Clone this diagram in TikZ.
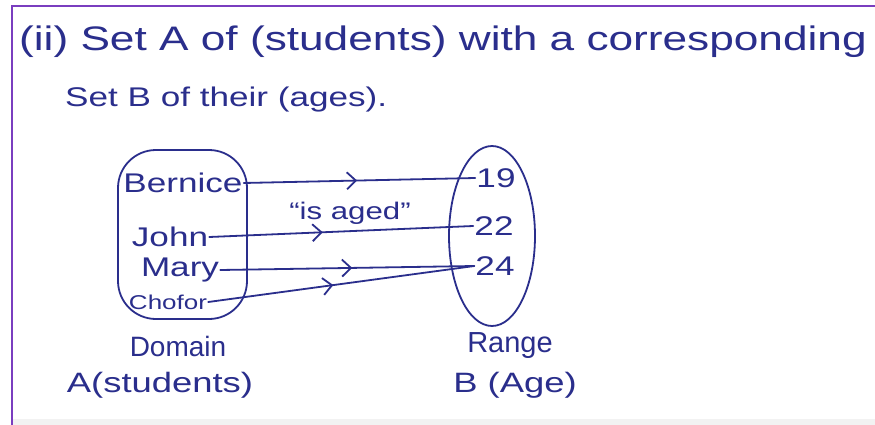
\documentclass[tikz,border=0pt]{standalone}
\usepackage{fontspec}
\setmainfont{Liberation Sans}
\newfontfamily\handfont[FakeStretch=1.3]{Liberation Sans}
\newfontfamily\plainhand{Liberation Sans}
\usetikzlibrary{arrows.meta,decorations.markings}
\definecolor{ink}{HTML}{2A2E8C}
\definecolor{framecol}{HTML}{7A3DBF}
\tikzset{
  inkline/.style={draw=ink, line width=1.8pt, line cap=round, line join=round},
  midarrow/.style={inkline, postaction={decorate},
    decoration={markings, mark=at position #1 with {\arrow[ink, line width=1.8pt]{Straight Barb[length=9pt,width=17pt]}}}},
  hand/.style={text=ink, inner sep=1pt, font=\handfont\fontsize{#1}{#1}\selectfont},
  tallhand/.style={text=ink, inner sep=1pt, font=\plainhand\fontsize{#1}{#1}\selectfont},
}
\begin{document}
\begin{tikzpicture}[x=1pt,y=-1pt]
\useasboundingbox (0,0) rectangle (875,425);
\fill[white] (0,0) rectangle (875,425);
\fill[black!5] (12,419) rectangle (875,425);
\draw[framecol, line width=2.6pt] (12,425) -- (12,6) -- (875,6);

% title text
\node[hand=34, anchor=west] (title) at (18,42) {(ii) Set A of (students) with a corresponding};
\node[hand=27, anchor=west] (sub) at (64,100) {Set B of their (ages).};

% sets
\draw[inkline, rounded corners=38pt] (118,150) rectangle (247,319);
\draw[inkline] (492,236) ellipse [x radius=43pt, y radius=90pt];

% domain elements
\node[hand=27] (bernice) at (183,183) {Bernice};
\node[hand=27] (john) at (170,237) {John};
\node[hand=27] (mary) at (180,270) {Mary};
\node[hand=20] (chofor) at (168,302) {Chofor};

% range elements
\node[hand=27] (n19) at (496,178) {19};
\node[hand=27] (n22) at (494,226) {22};
\node[hand=27] (n24) at (495,266) {24};

% connectors
\draw[midarrow=0.49] (bernice.east) -- (n19.west);
\draw[midarrow=0.43] (john.east) -- (n22.west);
\draw[midarrow=0.52] (mary.east) -- (n24.west);
\draw[midarrow=0.47] (chofor.east) -- (n24.west);

\node[hand=24] (isaged) at (350,213) {“is aged”};

% labels
\node[tallhand=28] (domain) at (178,346) {Domain};
\node[tallhand=29] (range) at (510,346) {Range};
\node[hand=28] (setA) at (160,385) {A(students)};
\node[hand=28] (setB) at (515,385) {B (Age)};
\end{tikzpicture}
\end{document}
